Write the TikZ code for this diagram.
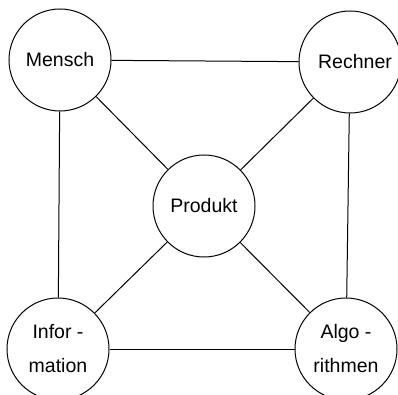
\documentclass[tikz,border=0pt]{standalone}
\usepackage{fontspec}
\setmainfont{Liberation Sans}
\begin{document}
\begin{tikzpicture}[x=1pt,y=1pt,
		kreis/.style={circle,draw,line width=1pt,minimum size=102pt,inner sep=0pt,align=center,font=\fontsize{19.5}{23}\selectfont}]
					\useasboundingbox (0,0) rectangle (398,394);
					\node [kreis] (M) at (60,334) {Mensch};
					\node [kreis] (R) at (350,332) {\hspace*{10pt}Rechner};
					\node [kreis] (P) at (204,188) {Produkt};
					\node [kreis] (I) at (58,45) {Infor -\\[11pt]mation};
					\node [kreis] (A) at (346,45) {Algo -\\[11pt]rithmen};
					\foreach \a/\b in {M/R,M/I,R/A,I/A,M/P,R/P,I/P,A/P} \draw[line width=1pt] (\a)--(\b);
			\end{tikzpicture}
\end{document}
